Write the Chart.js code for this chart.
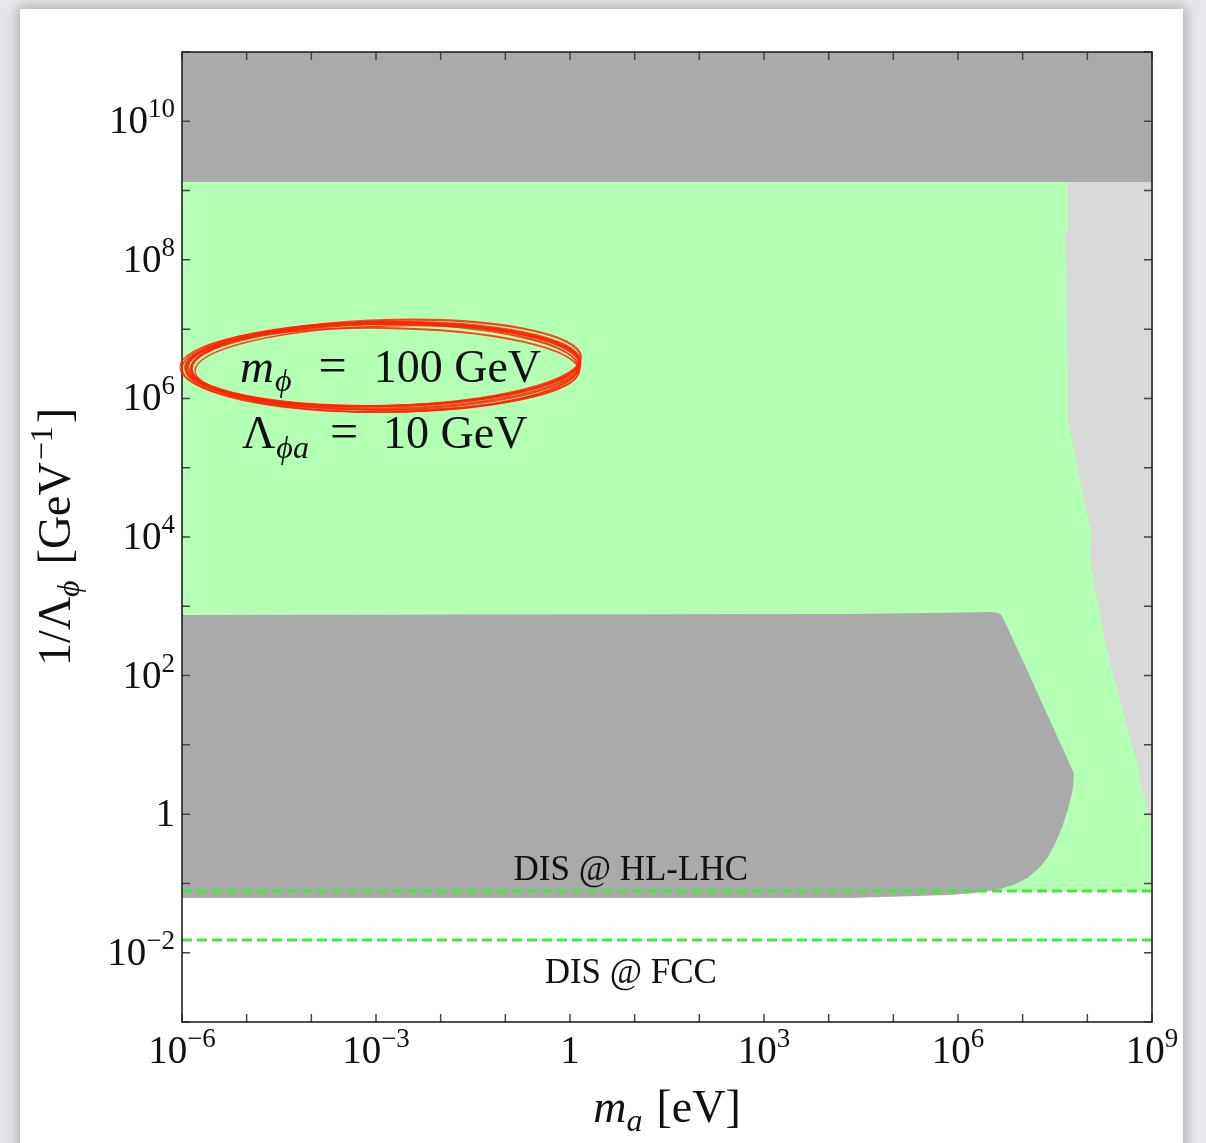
<!DOCTYPE html>
<html>
<head>
<meta charset="utf-8">
<script src="https://cdn.jsdelivr.net/npm/chart.js@4/dist/chart.umd.min.js"></script>
<style>
  html, body { margin: 0; padding: 0; background: #e6e7ea; overflow: hidden; }
  #card { position: absolute; left: 20px; top: 9px; width: 1163px; height: 1200px;
          background: #fff; box-shadow: 0 0 12px 2px rgba(0,0,0,0.28); }
  #plot { position: absolute; left: 0; top: 0; }
</style>
</head>
<body>
<div id="card"></div>
<canvas id="plot" width="1206" height="1143"></canvas>
<script>
// axis ranges (m_a in eV, 1/Lambda_phi in GeV^-1)
const xRange = [1e-6, 1e9];
const yRange = [1e-3, 1e11];
const xLabelExp = [-6, -3, 0, 3, 6, 9];
const yLabelExp = [-2, 0, 2, 4, 6, 8, 10];

// excluded band at large couplings
const topBandX = [1e-6, 1e9, 1e9, 1e-6];
const topBandY = [1.33e9, 1.33e9, 1e11, 1e11];

// allowed region above the HL-LHC reach
const greenX = [1e-6, 1e9, 1e9, 1e-6];
const greenY = [0.078, 0.078, 1.33e9, 1.33e9];

// light gray region at heavy m_a
const lightX = [5.0e7, 5.0e7, 4.5e7, 4.8e7, 5.0e7, 1.17e8, 1.1e8, 1.1e8, 2.0e8, 5.5e8, 5.9e8, 6.5e8, 1e9, 1e9];
const lightY = [1.33e9, 2.5e8, 2.5e8, 3.3e7, 4.9e5, 1.0e4, 9.1e3, 4.7e3, 2.3e2, 6.7, 5.7, 3.1, 0.65, 1.33e9];

// lower dark gray region
const lowX = [1e-6, 2.1e4, 1.2e6, 3.1e6, 4.0e6, 4.6e6, 5.2e6, 1.17e7, 6.2e7, 6.0e7, 5.0e7, 4.0e7, 3.1e7,
              2.4e7, 1.72e7, 1.17e7, 7.6e6, 4.5e6, 1.8e6, 7.5e5, 2.3e5, 2.1e4, 1e-6];
const lowY = [750, 776, 815, 830, 815, 760, 620, 120, 3.9, 2.4, 1.15, 0.62, 0.36,
              0.23, 0.16, 0.12, 0.097, 0.083, 0.073, 0.068, 0.066, 0.0616, 0.0616];

// DIS reach lines
const disHL = 0.078;
const disFCC = 0.0153;

const pts = (xs, ys) => xs.map((x, i) => ({x: x, y: ys[i]}));

const region = (xs, ys, color, order) => ({
  data: pts(xs, ys),
  showLine: true,
  fill: 'shape',
  backgroundColor: color,
  borderColor: 'rgba(0,0,0,0)',
  borderWidth: 0,
  pointRadius: 0,
  order: order
});

const dashed = (y) => ({
  data: pts(xRange, [y, y]),
  showLine: true,
  fill: false,
  borderColor: '#3dec3d',
  borderWidth: 3,
  borderDash: [10, 5],
  pointRadius: 0,
  order: 0
});

const SERIF = '"Liberation Serif", "DejaVu Serif", serif';
const fontOf = r => (r.it ? 'italic ' : '') + r.size + 'px ' + SERIF;

function runsWidth(ctx, runs) {
  let w = 0;
  for (const r of runs) {
    ctx.font = fontOf(r);
    w += (r.pre || 0) + ctx.measureText(r.t).width;
  }
  return w;
}

function drawRuns(ctx, runs, x, y, align) {
  const w = runsWidth(ctx, runs);
  let cx = align === 'center' ? x - w / 2 : align === 'right' ? x - w : x;
  ctx.textAlign = 'left';
  ctx.textBaseline = 'alphabetic';
  for (const r of runs) {
    cx += r.pre || 0;
    ctx.font = fontOf(r);
    ctx.fillText(r.t, cx, y + (r.dy || 0));
    cx += ctx.measureText(r.t).width;
  }
}

function powerLabel(e) {
  if (e === 0) return [{t: '1', size: 39}];
  const s = e < 0 ? '\u2212' + (-e) : String(e);
  return [{t: '10', size: 39}, {t: s, size: 27, dy: -16}];
}

// frame, inward ticks, labels and annotations
const framePlugin = {
  id: 'frame',
  afterDraw(chart) {
    const ctx = chart.ctx;
    const xs = chart.scales.x, ys = chart.scales.y;
    const {left, right, top, bottom} = chart.chartArea;
    ctx.save();

    ctx.strokeStyle = '#444';
    ctx.lineWidth = 1.5;
    ctx.beginPath();
    for (let e = -6; e <= 9; e++) {
      const px = xs.getPixelForValue(Math.pow(10, e));
      ctx.moveTo(px, bottom); ctx.lineTo(px, bottom - 8);
      ctx.moveTo(px, top); ctx.lineTo(px, top + 8);
    }
    for (let e = -3; e <= 11; e++) {
      const py = ys.getPixelForValue(Math.pow(10, e));
      ctx.moveTo(left, py); ctx.lineTo(left + 8, py);
      ctx.moveTo(right, py); ctx.lineTo(right - 8, py);
    }
    ctx.stroke();

    ctx.strokeStyle = '#222';
    ctx.lineWidth = 1.6;
    ctx.strokeRect(left, top, right - left, bottom - top);

    ctx.fillStyle = '#111';
    for (const e of xLabelExp) {
      drawRuns(ctx, powerLabel(e), xs.getPixelForValue(Math.pow(10, e)), bottom + 41, 'center');
    }
    for (const e of yLabelExp) {
      drawRuns(ctx, powerLabel(e), left - 7, ys.getPixelForValue(Math.pow(10, e)) + 12, 'right');
    }

    // axis titles
    drawRuns(ctx, [
      {t: 'm', size: 46, it: true},
      {t: 'a', size: 32, it: true, dy: 9},
      {t: '[eV]', size: 46, pre: 14}
    ], 667, 1122, 'center');

    ctx.save();
    ctx.translate(70, 537);
    ctx.rotate(-Math.PI / 2);
    drawRuns(ctx, [
      {t: '1/\u039B', size: 46},
      {t: '\u03D5', size: 32, it: true, dy: 9},
      {t: '[GeV', size: 46, pre: 16},
      {t: '\u22121', size: 32, dy: -18, pre: 2},
      {t: ']', size: 46, pre: 3}
    ], 0, 0, 'center');
    ctx.restore();

    // DIS labels
    const cxLab = xs.getPixelForValue(Math.pow(10, 0.94));
    drawRuns(ctx, [{t: 'DIS @ HL-LHC', size: 35}], cxLab, ys.getPixelForValue(disHL) - 11, 'center');
    drawRuns(ctx, [{t: 'DIS @ FCC', size: 35}], cxLab, ys.getPixelForValue(disFCC) + 43, 'center');

    // benchmark parameters
    drawRuns(ctx, [
      {t: 'm', size: 47, it: true},
      {t: '\u03D5', size: 32, it: true, dy: 9, pre: 1},
      {t: '=', size: 50, pre: 27},
      {t: '100 GeV', size: 46, pre: 27}
    ], 240, 382, 'left');
    drawRuns(ctx, [
      {t: '\u039B', size: 46},
      {t: '\u03D5a', size: 32, it: true, dy: 10, pre: 1},
      {t: '=', size: 50, pre: 21},
      {t: '10 GeV', size: 46, pre: 25}
    ], 242, 448, 'left');

    // hand-drawn ring around the mass value
    const rings = [
      [0, 0, 197, 43, -0.012, 3.0],
      [2, -1, 194, 41, -0.020, 2.0],
      [-2, 1, 199, 45, -0.006, 1.6],
      [4, 0, 192, 40, -0.026, 1.4],
      [-3, 2, 200, 44, 0.004, 1.2],
      [1, -2, 196, 42, -0.016, 2.4],
      [3, -3, 195, 43, -0.030, 2.2],
      [-1, 3, 197, 41, 0.010, 1.8],
      [2, 2, 193, 44, -0.004, 1.5]
    ];
    ctx.strokeStyle = 'rgba(255,38,0,0.85)';
    for (const [dx, dy, rx, ry, rot, w] of rings) {
      ctx.lineWidth = w;
      ctx.beginPath();
      ctx.ellipse(383 + dx, 366 + dy, rx, ry, rot, 0, Math.PI * 2);
      ctx.stroke();
    }
    ctx.restore();
  }
};

new Chart(document.getElementById('plot'), {
  type: 'scatter',
  data: {
    datasets: [
      dashed(disHL),
      dashed(disFCC),
      region(lowX, lowY, '#aaaaaa', 1),
      region(lightX, lightY, '#d9d9d9', 2),
      region(greenX, greenY, '#b3ffb3', 3),
      region(topBandX, topBandY, '#aaaaaa', 4)
    ]
  },
  options: {
    responsive: false,
    animation: false,
    layout: { padding: { left: 182, top: 52, right: 54, bottom: 121 } },
    scales: {
      x: { type: 'logarithmic', min: xRange[0], max: xRange[1], display: false },
      y: { type: 'logarithmic', min: yRange[0], max: yRange[1], display: false }
    },
    plugins: { legend: { display: false }, tooltip: { enabled: false } }
  },
  plugins: [framePlugin]
});
</script>
</body>
</html>
